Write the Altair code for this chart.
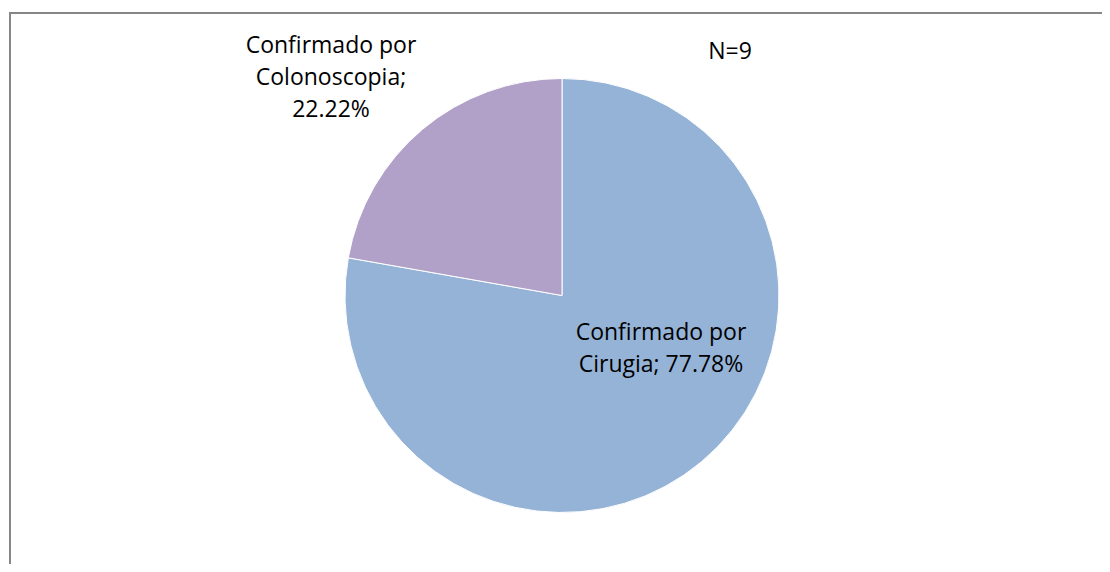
import altair as alt
import pandas as pd

categories = ["Confirmado por Cirugia", "Confirmado por Colonoscopia"]
counts = [7, 2]
colors = ["#95B3D7", "#B1A0C7"]
total = sum(counts)
pcts = [round(c / total * 100, 2) for c in counts]

df = pd.DataFrame({"cat": categories, "n": counts, "order": [0, 1]})

W, H = 1094, 556
FONT = "Open Sans"

pie = alt.Chart(df).mark_arc(radius=217, stroke="white", strokeWidth=1).encode(
    theta=alt.Theta("n:Q", stack=True),
    order=alt.Order("order:Q"),
    color=alt.Color("cat:N", scale=alt.Scale(domain=categories, range=colors), legend=None),
    x=alt.value(552),
    y=alt.value(287.5),
)

lab_cir = pd.DataFrame({"t": [["Confirmado por", f"Cirugia; {pcts[0]:.2f}%"]]})
lab_col = pd.DataFrame({"t": [["Confirmado por", "Colonoscopia;", f"{pcts[1]:.2f}%"]]})
lab_n = pd.DataFrame({"t": [f"N={total}"]})

def text_layer(d, x, y):
    return alt.Chart(d).mark_text(
        font=FONT, fontSize=23, color="black", align="center",
        baseline="middle", lineHeight=32
    ).encode(text="t:N", x=alt.value(x), y=alt.value(y))

t1 = text_layer(lab_cir, 651, 325)
t2 = text_layer(lab_col, 321, 38)
t3 = text_layer(lab_n, 720, 44)

border = pd.DataFrame({"a": [0]})
top_line = alt.Chart(border).mark_rule(color="#868686", strokeWidth=2).encode(
    x=alt.value(-1), x2=alt.value(W + 10), y=alt.value(5)
)
left_line = alt.Chart(border).mark_rule(color="#868686", strokeWidth=2).encode(
    x=alt.value(0), y=alt.value(4), y2=alt.value(H + 10)
)

chart = alt.layer(pie, top_line, left_line, t1, t2, t3).properties(
    width=W, height=H, padding=0,
    autosize=alt.AutoSizeParams(type="fit", contains="padding"),
).configure_view(stroke=None)

chart.save("out.html", embed_options={"renderer": "svg", "actions": False})
